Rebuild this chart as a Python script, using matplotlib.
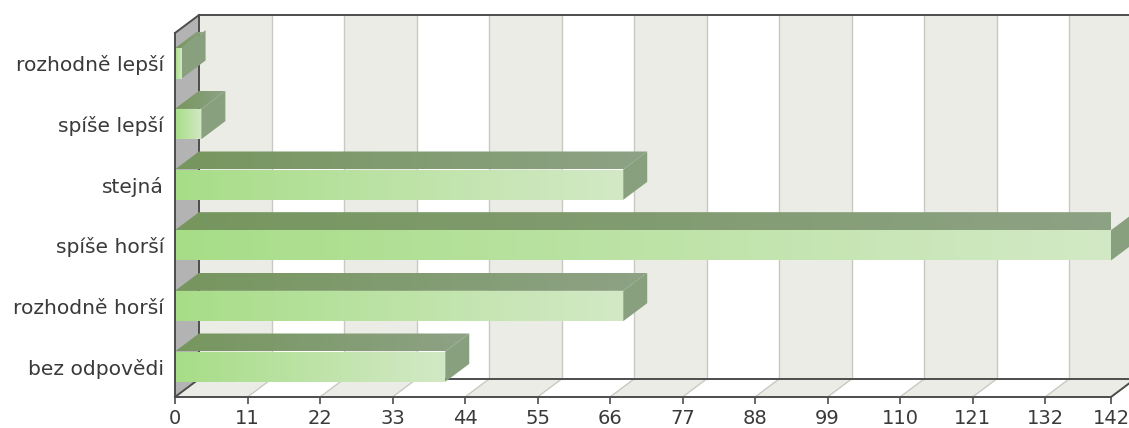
import numpy as np
import matplotlib
matplotlib.use("Agg")
import matplotlib.pyplot as plt
from matplotlib.patches import Polygon
from matplotlib.colors import to_rgb

# --- data -------------------------------------------------------------
categories = ["rozhodně lepší", "spíše lepší", "stejná",
              "spíše horší", "rozhodně horší", "bez odpovědi"]
values = [1, 4, 68, 142, 68, 41]
x_ticks = [0, 11, 22, 33, 44, 55, 66, 77, 88, 99, 110, 121, 132, 142]

# --- style ------------------------------------------------------------
W, H, DPI = 1129, 428, 100
DEPTH_PX = (24, 18)          # 3D depth offset of the back wall, pixels
BAR_HALF = 0.25              # half bar thickness in category units
TEXT = "#3a3a3a"
FRAME = "#4d4d4d"
WALL_SIDE = "#b3b3b3"
STRIPE = ["#ececE6", "#ffffff"]
GRID = "#c9c9c4"
FRONT_GRAD = ("#a7dd87", "#d3e9c6")
TOP_GRAD = ("#76965e", "#8ea285")
SIDE = "#88a07e"

plt.rcParams["font.family"] = ["DejaVu Sans"]

fig = plt.figure(figsize=(W / DPI, H / DPI), dpi=DPI)
ax = fig.add_axes([175 / W, 31 / H, 936 / W, 364 / H])
ax.patch.set_visible(False)
n = len(categories)
ax.set_xlim(x_ticks[0], x_ticks[-1])
ax.set_ylim(-0.5, n - 0.5)

# depth offset expressed in data units
inv = ax.transData.inverted()
p0 = inv.transform((0, 0))
p1 = inv.transform(DEPTH_PX)
DX, DY = p1 - p0

y0, y1 = -0.5, n - 0.5
xmax = x_ticks[-1]


def poly(pts, **kw):
    p = Polygon(pts, closed=True, clip_on=False, **kw)
    ax.add_patch(p)
    return p


def gradient_poly(pts, c0, c1, z):
    pts = np.asarray(pts, float)
    patch = poly(pts, facecolor="none", edgecolor="none", zorder=z)
    a, b = np.array(to_rgb(c0)), np.array(to_rgb(c1))
    t = np.linspace(0, 1, 256)[None, :, None]
    img = a + (b - a) * t
    im = ax.imshow(img, extent=(pts[:, 0].min(), pts[:, 0].max(),
                                pts[:, 1].min(), pts[:, 1].max()),
                   origin="lower", aspect="auto", interpolation="bilinear",
                   zorder=z)
    im.set_clip_path(patch)
    im.set_clip_box(None)
    return im


# back wall stripes + floor stripes + gridlines
for i in range(len(x_ticks) - 1):
    a, b = x_ticks[i], x_ticks[i + 1]
    col = STRIPE[i % 2]
    poly([(a + DX, y0 + DY), (b + DX, y0 + DY), (b + DX, y1 + DY), (a + DX, y1 + DY)],
         facecolor=col, edgecolor="none", zorder=1)
    poly([(a, y0), (b, y0), (b + DX, y0 + DY), (a + DX, y0 + DY)],
         facecolor=col, edgecolor="none", zorder=1)

for t in x_ticks[1:]:
    ax.plot([t + DX, t + DX], [y0 + DY, y1 + DY], color=GRID, lw=1.0,
            zorder=2, clip_on=False)
    ax.plot([t, t + DX], [y0, y0 + DY], color=GRID, lw=1.0,
            zorder=2, clip_on=False)

# left side wall
poly([(0, y0), (DX, y0 + DY), (DX, y1 + DY), (0, y1)],
     facecolor=WALL_SIDE, edgecolor="none", zorder=2)

# frame lines
lw = 1.4
ax.plot([DX, xmax + DX + 5], [y1 + DY, y1 + DY], color=FRAME, lw=lw, zorder=3, clip_on=False)
ax.plot([0, DX], [y1, y1 + DY], color=FRAME, lw=lw, zorder=3, clip_on=False)
ax.plot([DX, DX], [y0 + DY, y1 + DY], color=FRAME, lw=lw, zorder=3, clip_on=False)
ax.plot([DX, xmax + DX + 5], [y0 + DY, y0 + DY], color=FRAME, lw=lw, zorder=3, clip_on=False)
ax.plot([0, DX], [y0, y0 + DY], color=FRAME, lw=lw, zorder=3, clip_on=False)
ax.plot([xmax, xmax + DX], [y0, y0 + DY], color=FRAME, lw=lw, zorder=3, clip_on=False)

# bars
for i, (cat, v) in enumerate(zip(categories, values)):
    c = n - 1 - i
    lo, hi = c - BAR_HALF, c + BAR_HALF
    # top face
    gradient_poly([(0, hi), (v, hi), (v + DX, hi + DY), (DX, hi + DY)],
                  TOP_GRAD[0], TOP_GRAD[1], z=4)
    # right side face
    poly([(v, lo), (v + DX, lo + DY), (v + DX, hi + DY), (v, hi)],
         facecolor=SIDE, edgecolor="none", zorder=4)
    # front face
    gradient_poly([(0, lo), (v, lo), (v, hi), (0, hi)],
                  FRONT_GRAD[0], FRONT_GRAD[1], z=5)

ax.set_xlim(x_ticks[0], x_ticks[-1])
ax.set_ylim(-0.5, n - 0.5)

# axes, ticks, labels
for s in ("top", "right"):
    ax.spines[s].set_visible(False)
for s in ("left", "bottom"):
    ax.spines[s].set_color(FRAME)
    ax.spines[s].set_linewidth(lw)
    ax.spines[s].set_zorder(6)

ax.set_xticks(x_ticks)
ax.set_xticklabels([str(t) for t in x_ticks])
ax.set_yticks([n - 1 - i for i in range(n)])
ax.set_yticklabels(categories)
ax.tick_params(axis="x", direction="out", length=5, width=1.2, color=FRAME,
               labelsize=14, labelcolor=TEXT, pad=4)
ax.tick_params(axis="y", length=0, labelsize=14.6, labelcolor=TEXT, pad=8)

fig.savefig("out.png", dpi=DPI)
